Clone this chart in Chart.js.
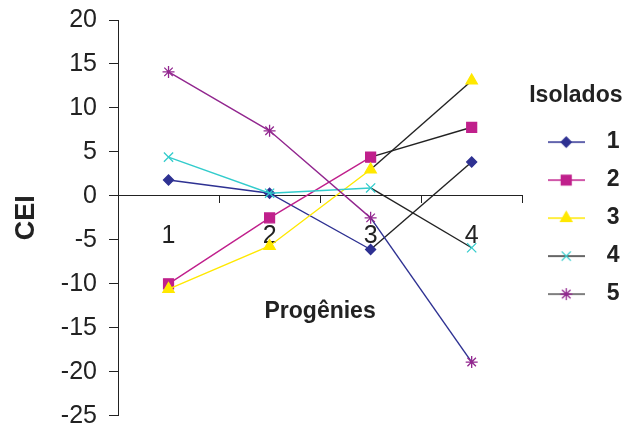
<!DOCTYPE html>
<html>
<head>
<meta charset="utf-8">
<script src="https://cdn.jsdelivr.net/npm/chart.js@4.4.1/dist/chart.umd.min.js"></script>
<style>
html, body { margin: 0; padding: 0; background: #fff; }
#wrap { width: 637px; height: 424px; }
</style>
</head>
<body>
<div id="wrap"><canvas id="chart"></canvas></div>
<script>
const PROGENIES = ["1", "2", "3", "4"];
const ISOLADOS = ["1", "2", "3", "4", "5"];
const ISOLADO_1 = [1.8, 0.3, -6.1, 3.85];
const ISOLADO_2 = [-10.0, -2.5, 4.4, 7.8];
const ISOLADO_3 = [-10.6, -5.7, 3.0, 13.1];
const ISOLADO_4 = [4.4, 0.3, 0.9, -5.9];
const ISOLADO_5 = [14.1, 7.4, -2.5, -18.9];
const Y_MIN = -25;
const Y_MAX = 20;
const Y_STEP = 5;

const SERIES = [ISOLADO_1, ISOLADO_2, ISOLADO_3, ISOLADO_4, ISOLADO_5];
const COLORS = ["#2e3192", "#c0208c", "#ffe800", "#33cccc", "#92278f"];
const LAST_SEGMENT = ["#222", "#222", "#222", "#222", "#2e3192"];
const LEGEND_LINE = ["#2e3192", "#c0208c", "#ffe800", "#333", "#555"];
const STYLES = ["rectRot", "rect", "triangle", "crossRot", "star"];
const RADII = [5, 7, 6.5, 6.5, 6];
const FONT = "'Liberation Sans', Arial, sans-serif";
const INK = "#222";

// small legend symbol: line with the marker in the middle
function legendSymbol(i) {
  const c = document.createElement("canvas");
  c.width = 37;
  c.height = 16;
  const ctx = c.getContext("2d");
  ctx.strokeStyle = LEGEND_LINE[i];
  ctx.lineWidth = 1.5;
  ctx.beginPath();
  ctx.moveTo(0, 8);
  ctx.lineTo(37, 8);
  ctx.stroke();
  ctx.fillStyle = COLORS[i];
  ctx.strokeStyle = COLORS[i];
  ctx.lineWidth = 1.3;
  Chart.helpers.drawPoint(ctx, {
    pointStyle: STYLES[i],
    radius: RADII[i],
    borderWidth: 1.3,
    rotation: 0
  }, 18.5, 8);
  return c;
}

const datasets = SERIES.map((values, i) => ({
  label: ISOLADOS[i],
  data: values,
  borderColor: COLORS[i],
  backgroundColor: COLORS[i],
  borderWidth: 1.4,
  pointStyle: STYLES[i],
  pointRadius: RADII[i],
  pointBackgroundColor: COLORS[i],
  pointBorderColor: COLORS[i],
  pointBorderWidth: 1.3,
  tension: 0,
  fill: false,
  order: SERIES.length - i,
  segment: {
    borderColor: (ctx) => (ctx.p0DataIndex === 2 ? LAST_SEGMENT[i] : undefined)
  }
}));

new Chart(document.getElementById("chart"), {
  type: "line",
  data: {
    labels: PROGENIES,
    datasets: datasets
  },
  options: {
    responsive: true,
    maintainAspectRatio: false,
    animation: false,
    layout: {
      padding: { top: 20, right: 7.5, bottom: 3, left: 0 }
    },
    scales: {
      x: {
        type: "category",
        position: { y: 0 },
        offset: true,
        afterFit: (scale) => {
          scale.height = 10;
          scale.paddingLeft = 0;
          scale.paddingRight = 0;
        },
        grid: {
          offset: true,
          drawOnChartArea: false,
          drawTicks: true,
          tickLength: 7,
          color: INK
        },
        border: { color: INK, width: 1 },
        ticks: {
          padding: 18,
          color: INK,
          font: { family: FONT, size: 25 }
        },
        title: {
          display: true,
          text: "Progênies",
          color: INK,
          padding: { top: 0, bottom: -120 },
          font: { family: FONT, size: 23, weight: "bold" }
        }
      },
      y: {
        min: Y_MIN,
        max: Y_MAX,
        afterFit: (scale) => {
          scale.width = 118;
          scale.paddingTop = 0;
          scale.paddingBottom = 0;
        },
        grid: {
          drawOnChartArea: false,
          drawTicks: true,
          tickLength: 9,
          color: INK
        },
        border: { color: INK, width: 1 },
        ticks: {
          stepSize: Y_STEP,
          padding: 12,
          color: INK,
          font: { family: FONT, size: 25, lineHeight: 1 }
        },
        title: {
          display: true,
          text: "CEI",
          color: INK,
          padding: { top: 10.8, bottom: 0 },
          font: { family: FONT, size: 27, weight: "bold" }
        }
      }
    },
    plugins: {
      tooltip: { enabled: false },
      legend: {
        position: "right",
        align: "start",
        title: {
          display: true,
          text: "Isolados",
          color: INK,
          padding: { top: 64, bottom: 4 },
          font: { family: FONT, size: 23, weight: "bold" }
        },
        labels: {
          usePointStyle: true,
          pointStyleWidth: 58,
          padding: 15,
          color: INK,
          font: { family: FONT, size: 23, weight: "bold" },
          generateLabels: (chart) => chart.data.datasets.map((ds, i) => ({
            text: ds.label,
            pointStyle: legendSymbol(i),
            fillStyle: COLORS[i],
            strokeStyle: COLORS[i],
            fontColor: INK,
            lineWidth: 0,
            hidden: !chart.isDatasetVisible(i),
            datasetIndex: i
          }))
        }
      }
    }
  }
});
</script>
</body>
</html>
